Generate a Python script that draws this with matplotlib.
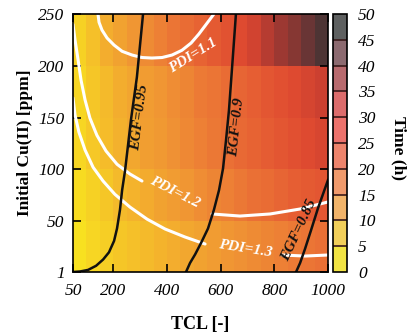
import numpy as np
import matplotlib.pyplot as plt
import matplotlib as mpl
from matplotlib.colors import LinearSegmentedColormap, ListedColormap, BoundaryNorm

plt.rcParams['font.family'] = ['Liberation Serif', 'DejaVu Serif']

# grid of the heat map (cell edges)
tcl_edges = [50, 100, 150, 200, 250, 300, 350, 400, 450, 500, 550,
             600, 650, 700, 750, 800, 850, 900, 950, 1000]
cu_edges = [1, 50, 100, 150, 200, 250]

# time (h) per cell, one list per Cu(II) band, left to right in TCL
time_cu_1_50 = [1, 3, 4.5, 6, 7, 8, 9, 10, 11, 12, 13, 14, 15, 16, 17, 18, 19, 20, 21]
time_cu_50_100 = [2, 4, 6, 8, 9, 10.5, 12, 13, 14, 15.5, 17, 18, 19.5, 21, 22, 23.5, 25, 26, 27]
time_cu_100_150 = [3, 5.5, 7.5, 9.5, 11, 12.5, 13.5, 15, 16.5, 18, 19.5, 21, 22.5, 24, 25.5, 27, 28.5, 30, 31.5]
time_cu_150_200 = [3, 6, 8, 10, 11.5, 13, 14, 15.5, 17, 19, 20, 22, 23.5, 25, 27, 28.5, 30, 32, 34]
time_cu_200_250 = [4, 7, 10, 12, 14, 16, 18, 20, 22, 24, 26, 28, 30, 33, 37, 40, 42, 45, 48]

# PDI iso-lines (white), NaN marks the gap left for the label
pdi11_tcl = [143, 147, 158, 177, 203, 233, 270, 307, 344, 382, 419, 456, 490, 519, 549, 575]
pdi11_cu = [250, 242, 234.5, 226.8, 220, 214, 210.4, 208, 207.5, 208, 210.4, 215, 222, 230.7, 241, 250]
pdi12_tcl = [50, 57.5, 69, 80, 95, 113, 139, 173, 214, 262, 307, np.nan, 568, 672, 784, 896, 1000]
pdi12_cu = [240, 225, 205.6, 186, 167, 149.6, 133, 117.8, 105, 95.6, 88.8, np.nan, 57, 55, 57, 61.8, 68.6]
pdi13_tcl = [50, 57.5, 72, 95, 125, 162, 206, 262, 326, 393, 467, 542, np.nan, 829, 914, 1000]
pdi13_cu = [169, 152.5, 136, 118.7, 102, 88.8, 76, 63.7, 52, 42.5, 34.8, 28, np.nan, 17.4, 16.4, 17.4]

# EGF iso-lines (black)
egf095_tcl = [50, 76, 106, 136, 162, 184, 203, 214, 225, 233, 244, 266, 288, 311]
egf095_cu = [1, 1.5, 3, 7, 13, 20, 31, 43, 61, 80, 99, 148, 189, 250]
egf090_tcl = [471, 486, 505, 527, 553, 575, 594, 609, 620, 631, 642, 657]
egf090_cu = [1, 9.7, 18, 29, 43, 61, 80, 101, 128, 157, 196, 250]
egf085_tcl = [881, 896, 914, 937, 963, 1000]
egf085_cu = [1, 9.7, 23, 41.5, 62.8, 89.8]

x_ticks = [50, 200, 400, 600, 800, 1000]
y_ticks = [1, 50, 100, 150, 200, 250]
time_levels = [0, 5, 10, 15, 20, 25, 30, 35, 40, 45, 50]

heat_cmap = LinearSegmentedColormap.from_list('heat', [
    '#f8e61e', '#f6cb26', '#f3ad2e', '#ef9034', '#eb7535', '#e65e33',
    '#de4a30', '#c83e30', '#9c3832', '#6a3535', '#3a3434'])
bar_cmap = ListedColormap(['#f2e444', '#f2cf5a', '#f2b46a', '#f09a6c', '#ee846c',
                           '#ec726c', '#dc6c6c', '#b86a6e', '#8c6a70', '#5e6060'])

time = np.array([time_cu_1_50, time_cu_50_100, time_cu_100_150,
                 time_cu_150_200, time_cu_200_250])

fig = plt.figure(figsize=(4.1, 3.36), dpi=100)
ax = fig.add_axes([73 / 410, 64 / 336, 255 / 410, 258 / 336])
ax.pcolormesh(tcl_edges, cu_edges, time, cmap=heat_cmap, vmin=0, vmax=50,
              shading='flat')

white_kw = dict(color='white', lw=2.2, solid_capstyle='round', solid_joinstyle='round')
ax.plot(pdi11_tcl, pdi11_cu, **white_kw)
ax.plot(pdi12_tcl, pdi12_cu, **white_kw)
ax.plot(pdi13_tcl, pdi13_cu, **white_kw)
black_kw = dict(color='#111111', lw=1.8, solid_joinstyle='round')
ax.plot(egf095_tcl, egf095_cu, **black_kw)
ax.plot(egf090_tcl, egf090_cu, **black_kw)
ax.plot(egf085_tcl, egf085_cu, **black_kw)

lab_kw = dict(fontsize=11, fontstyle='italic', fontweight='bold',
              ha='center', va='center', rotation_mode='anchor')
ax.text(497, 210, 'PDI=1.1', color='white', rotation=32, **lab_kw)
ax.text(430, 78, 'PDI=1.2', color='white', rotation=-27, **lab_kw)
ax.text(691, 23, 'PDI=1.3', color='white', rotation=-9, **lab_kw)
ax.text(300, 150, 'EGF=0.95', color='#111111', rotation=83, **lab_kw)
ax.text(661, 141, 'EGF=0.9', color='#111111', rotation=84, **lab_kw)
ax.text(893, 41, 'EGF=0.85', color='#111111', rotation=65, **lab_kw)

ax.set_xlim(50, 1000)
ax.set_ylim(1, 250)
ax.set_xticks(x_ticks)
ax.set_yticks(y_ticks)
ax.tick_params(direction='in', length=6, width=1.2, top=True, right=True,
               labelsize=12.5, colors='black')
ax.tick_params(axis='x', pad=8)
ax.tick_params(axis='y', pad=6)
for lab in ax.get_xticklabels() + ax.get_yticklabels():
    lab.set_fontstyle('italic')
for sp in ax.spines.values():
    sp.set_linewidth(1.2)
ax.set_xlabel('TCL [-]', fontsize=13, fontweight='bold', labelpad=12)
ax.set_ylabel('Initial Cu(II) [ppm]', fontsize=12.5, fontweight='bold', labelpad=4)

cax = fig.add_axes([333 / 410, 64 / 336, 14 / 410, 258 / 336])
sm = mpl.cm.ScalarMappable(norm=BoundaryNorm(time_levels, 10), cmap=bar_cmap)
cb = fig.colorbar(sm, cax=cax, ticks=time_levels, drawedges=True)
cb.dividers.set_color('#3a1a1a')
cb.dividers.set_linewidth(1.2)
cb.outline.set_linewidth(1.2)
cax.tick_params(length=0, pad=8, labelsize=12.5)
for lab in cax.get_yticklabels():
    lab.set_fontstyle('italic')
fig.text(399 / 410, 1 - 148 / 336, 'Time (h)', rotation=-90, fontsize=12.5,
         fontweight='bold', ha='center', va='center')

fig.savefig('out.png', dpi=100)
